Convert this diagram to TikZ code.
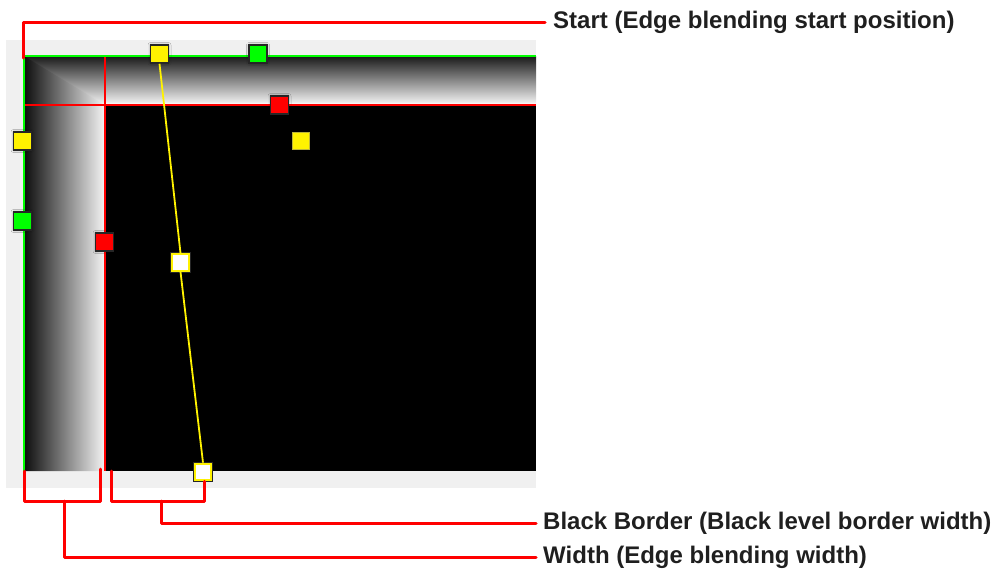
\documentclass[tikz,border=0pt]{standalone}
\usepackage{fontspec}
\setmainfont{Liberation Sans}
\usetikzlibrary{shadows.blur}
\begin{document}
\begin{tikzpicture}[x=1pt,y=-1pt,
  mk/.style={rectangle, minimum size=18pt, inner sep=0pt, line width=1.5pt, draw=black!85,
    blur shadow={shadow blur steps=5, shadow xshift=0pt, shadow yshift=0pt, shadow blur radius=2.5pt, shadow opacity=40}},
  wmk/.style={rectangle, minimum size=16.5pt, inner sep=0pt, line width=2.2pt, draw=yellow, fill=white,
    preaction={draw=black!85, line width=4pt}},
  bracket/.style={red, line width=3pt, line join=round, line cap=round},
  thinred/.style={red, line width=1.3pt},
  guide/.style={green, line width=1.5pt},
  yline/.style={yellow, line width=1.8pt},
  lbl/.style={anchor=west, inner sep=0pt, text=black!88, font={\fontsize{24}{28}\selectfont\bfseries}}]
\useasboundingbox (0,0) rectangle (995,573);
% panel
\fill[white!94!black] (6,40) rectangle (536,488);
% gradients
\shade[top color=black!90, bottom color=white!96!black] (24,56) rectangle (536,104);
\fill[white!96!black] (24,103) rectangle (536,105);
\shade[left color=black!95, right color=white!96!black] (24,56) -- (105,105) -- (105,471) -- (24,471) -- cycle;
\fill[black] (105,105) rectangle (536,471);
% guide lines
\draw[thinred] (24,105) -- (536,105);
\draw[thinred] (105,56) -- (105,471);
\draw[guide] (24,471) -- (24,56) -- (536,56);
% markers
\node[mk, fill=yellow] (yt) at (159.5,54) {};
\node[mk, fill=green] (gt) at (258,54) {};
\node[mk, fill=red] (rt) at (279.5,105) {};
\node[rectangle, minimum size=17pt, inner sep=0pt, fill=yellow, draw=yellow!70!black, line width=0.6pt] (yf) at (300.5,140.5) {};
\node[mk, fill=yellow] (yl) at (22.5,141) {};
\node[mk, fill=green] (gl) at (22.5,221) {};
\node[mk, fill=red] (rl) at (104.5,242) {};
\node[wmk] (wm) at (180.5,262.5) {};
\node[wmk] (wb) at (203,472) {};
\draw[yline] (yt.south) -- (wm.north);
\draw[yline] (wm.south) -- (wb.north);
% labels
\node[lbl] (stxt) at (553,22) {Start (Edge blending start position)};
\node[lbl] (btxt) at (543,523) {Black Border (Black level border width)};
\node[lbl] (wtxt) at (543,557) {Width (Edge blending width)};
% brackets
\coordinate (s0) at (23.5,58);
\draw[bracket] (s0) |- ([xshift=-8pt]stxt.west);
\coordinate (w0) at (24,471);
\coordinate (w1) at (24,501);
\coordinate (w2) at (100.7,501);
\coordinate (w3) at (100.7,469);
\coordinate (wm0) at (64,501);
\draw[bracket] (w0) -- (w1) -- (w2) -- (w3);
\draw[bracket] (wm0) |- ([xshift=-7pt]wtxt.west);
\coordinate (b0) at (111.7,471);
\coordinate (b1) at (111.7,501);
\coordinate (b2) at (204,501);
\coordinate (bm0) at (161.7,501);
\draw[bracket] (b0) -- (b1) -- (b2) -- (b2 |- wb.south);
\draw[bracket] (bm0) |- ([xshift=-7pt]btxt.west);
\end{tikzpicture}
\end{document}
